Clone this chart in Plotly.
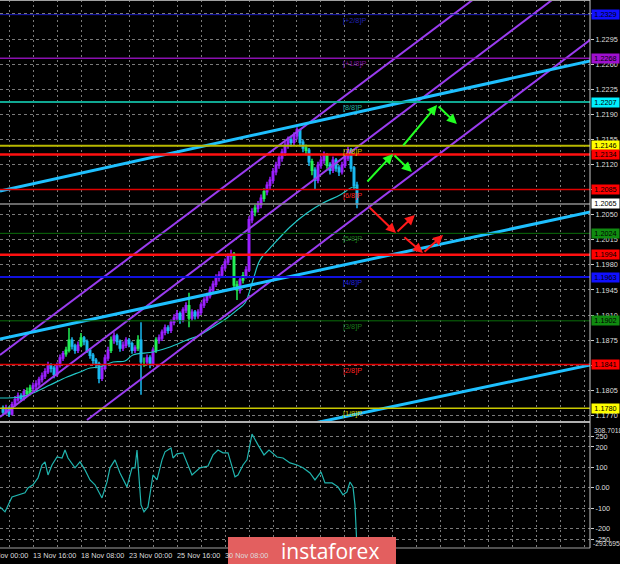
import plotly.graph_objects as go

# ---------------- data ----------------
bar_idx = list(range(119))
opens = [1.1780,1.1775,1.1780,1.1772,1.1785,1.1792,1.1797,1.1794,1.1803,1.1801,
         1.1808,1.1811,1.1814,1.1820,1.1825,1.1831,1.1839,1.1836,1.1827,1.1840,
         1.1850,1.1856,1.1861,1.1875,1.1867,1.1861,1.1868,1.1878,1.1873,1.1861,
         1.1854,1.1847,1.1842,1.1822,1.1836,1.1850,1.1861,1.1875,1.1881,1.1873,
         1.1864,1.1868,1.1875,1.1870,1.1861,1.1864,1.1875,1.1845,1.1845,1.1850,
         1.1842,1.1861,1.1875,1.1878,1.1886,1.1892,1.1889,1.1900,1.1906,1.1912,
         1.1903,1.1917,1.1923,1.1906,1.1914,1.1909,1.1914,1.1924,1.1931,1.1937,
         1.1945,1.1953,1.1962,1.1966,1.1976,1.1984,1.1992,1.1995,1.1952,1.1945,
         1.1959,1.1965,1.1973,1.2043,1.2054,1.2059,1.2064,1.2073,1.2082,1.2091,
         1.2098,1.2110,1.2119,1.2129,1.2137,1.2147,1.2154,1.2151,1.2160,1.2168,
         1.2151,1.2143,1.2140,1.2124,1.2112,1.2098,1.2119,1.2126,1.2133,1.2119,
         1.2112,1.2126,1.2115,1.2110,1.2119,1.2129,1.2140,1.2115,1.2091]
highs = [1.1784,1.1785,1.1783,1.1789,1.1797,1.1802,1.1801,1.1807,1.1809,1.1813,
         1.1816,1.1819,1.1824,1.1830,1.1836,1.1845,1.1843,1.1839,1.1844,1.1855,
         1.1860,1.1866,1.1892,1.1879,1.1870,1.1873,1.1885,1.1881,1.1876,1.1864,
         1.1857,1.1850,1.1845,1.1840,1.1855,1.1866,1.1880,1.1886,1.1884,1.1876,
         1.1873,1.1879,1.1878,1.1873,1.1868,1.1882,1.1900,1.1851,1.1855,1.1854,
         1.1865,1.1879,1.1883,1.1890,1.1897,1.1896,1.1904,1.1911,1.1917,1.1915,
         1.1921,1.1928,1.1941,1.1918,1.1917,1.1918,1.1928,1.1935,1.1941,1.1950,
         1.1958,1.1967,1.1971,1.1980,1.1989,1.1996,1.2001,1.1998,1.1958,1.1963,
         1.1970,1.1978,1.2048,1.2059,1.2064,1.2069,1.2078,1.2087,1.2096,1.2103,
         1.2115,1.2124,1.2134,1.2142,1.2152,1.2159,1.2160,1.2165,1.2172,1.2170,
         1.2155,1.2148,1.2143,1.2128,1.2116,1.2124,1.2131,1.2138,1.2136,1.2123,
         1.2131,1.2129,1.2119,1.2124,1.2134,1.2145,1.2143,1.2118,1.2096]
lows = [1.1770,1.1771,1.1768,1.1770,1.1782,1.1789,1.1789,1.1791,1.1797,1.1798,
        1.1804,1.1807,1.1810,1.1816,1.1821,1.1828,1.1830,1.1822,1.1824,1.1837,
        1.1846,1.1852,1.1858,1.1862,1.1856,1.1857,1.1865,1.1868,1.1857,1.1849,
        1.1841,1.1836,1.1815,1.1818,1.1833,1.1846,1.1857,1.1870,1.1868,1.1859,
        1.1860,1.1864,1.1865,1.1856,1.1857,1.1860,1.1799,1.1838,1.1840,1.1836,
        1.1839,1.1857,1.1870,1.1874,1.1882,1.1884,1.1885,1.1896,1.1902,1.1898,
        1.1900,1.1913,1.1893,1.1902,1.1904,1.1905,1.1910,1.1920,1.1927,1.1933,
        1.1941,1.1949,1.1957,1.1962,1.1972,1.1980,1.1987,1.1945,1.1931,1.1940,
        1.1954,1.1961,1.1970,1.2038,1.2048,1.2053,1.2059,1.2068,1.2077,1.2086,
        1.2093,1.2105,1.2114,1.2124,1.2132,1.2142,1.2145,1.2146,1.2155,1.2145,
        1.2137,1.2133,1.2118,1.2105,1.2085,1.2094,1.2114,1.2121,1.2114,1.2106,
        1.2108,1.2110,1.2104,1.2106,1.2115,1.2125,1.2110,1.2086,1.2059]
closes = [1.1775,1.1780,1.1772,1.1785,1.1792,1.1797,1.1794,1.1803,1.1801,1.1808,
          1.1811,1.1814,1.1820,1.1825,1.1831,1.1839,1.1836,1.1827,1.1840,1.1850,
          1.1856,1.1861,1.1875,1.1867,1.1861,1.1868,1.1878,1.1873,1.1861,1.1854,
          1.1847,1.1842,1.1822,1.1836,1.1850,1.1861,1.1875,1.1881,1.1873,1.1864,
          1.1868,1.1875,1.1870,1.1861,1.1864,1.1875,1.1845,1.1845,1.1850,1.1842,
          1.1861,1.1875,1.1878,1.1886,1.1892,1.1889,1.1900,1.1906,1.1912,1.1903,
          1.1917,1.1923,1.1906,1.1914,1.1909,1.1914,1.1924,1.1931,1.1937,1.1945,
          1.1953,1.1962,1.1966,1.1976,1.1984,1.1992,1.1995,1.1952,1.1945,1.1959,
          1.1965,1.1973,1.2043,1.2054,1.2059,1.2064,1.2073,1.2082,1.2091,1.2098,
          1.2110,1.2119,1.2129,1.2137,1.2147,1.2154,1.2151,1.2160,1.2168,1.2151,
          1.2143,1.2140,1.2124,1.2112,1.2098,1.2119,1.2126,1.2133,1.2119,1.2112,
          1.2126,1.2115,1.2110,1.2119,1.2129,1.2140,1.2115,1.2091,1.2065]
green_bars = [8, 9, 21, 22, 26, 36, 45, 47, 51, 62, 77, 78, 80, 84, 87, 101, 103, 108]

ma_x = [-1, 5.67, 10, 15.67, 21.33, 25.67, 29, 32.33, 36.67, 40.67, 43.33, 50, 55.67,
        61.33, 65.67, 70, 74.67, 78, 80.67, 83.33, 85.67, 90, 95.67, 101.33, 106.67,
        112.33, 116.67, 118]
ma_vals = [1.17944, 1.17958, 1.18014, 1.18125, 1.18237, 1.18307, 1.18362, 1.18376,
           1.18446, 1.18460, 1.18544, 1.18585, 1.18655, 1.18753, 1.18822, 1.18934,
           1.19059, 1.19171, 1.19269, 1.19589, 1.19868, 1.20078, 1.20329, 1.20524,
           1.20663, 1.20775, 1.20886, 1.20872]

cci_x = [-1, 0.67, 3, 5.67, 7.33, 8.33, 10, 11.67, 13, 14, 15, 16.33, 18, 19.67, 20.67,
         21.67, 24, 25.67, 27.33, 29, 30.67, 33, 34.67, 35.67, 37.33, 39, 41.33, 43, 44,
         44.67, 45.33, 46, 47, 48.33, 50, 51.33, 53, 54, 56, 56.67, 58, 60, 63, 64.67,
         65.67, 68.33, 70, 71.67, 73.33, 75, 77.33, 78.33, 80, 81.33, 83, 85, 87, 88.67,
         91.33, 93.33, 95.67, 98, 100, 102.33, 104, 106, 107.33, 109.67, 111.67, 113.33,
         114.67, 115.67, 116.67, 117.33, 118]
cci_vals = [-93, -117, -44, -34, -24, 0, 15, 49, 112, 127, 63, 112, 151, 146, 185,
            146, 98, 127, 88, 39, 15, -49, 29, 98, 137, 73, 5, 98, 98,
            185, 29, -83, -117, -93, 63, 39, 137, 176, 195, 146, 166, 171, 63, 88,
            98, 107, 161, 185, 171, 171, 54, 63, 112, 137, 263, 210, 161, 185,
            151, 146, 122, 112, 98, 73, 39, 78, 24, 24, 5, -34,
            -20, 29, 5, -83, -293.6958]

# Murray / support-resistance levels
level_prices = [1.2329, 1.2268, 1.2207, 1.2146, 1.2134, 1.2085, 1.2065, 1.2024,
                1.1994, 1.1963, 1.1902, 1.1841, 1.1780]
level_names = ["[+2/8]P", "[+1/8]P", "[8/8]P", "[7/8]P", "", "[6/8]P", "", "[5/8]P",
               "", "[4/8]P", "[3/8]P", "[2/8]P", "[1/8]P"]
level_labels = ["1.2329", "1.2268", "1.2207", "1.2146", "1.2134", "1.2085", "1.2065",
                "1.2024", "1.1994", "1.1963", "1.1902", "1.1841", "1.1780"]

# channel lines: (x0, p0, x1, p1)
purple_lines = [(-1, 1.18544, 196, 1.24735), (-1, 1.17679, 196, 1.23905),
                (28, 1.17637, 196, 1.22946)]
blue_lines = [(-1, 1.20831, 196, 1.22646), (-1, 1.18767, 196, 1.20541),
              (100, 1.17561, 196, 1.18407)]

green_arrows = [(121, 1.20942, 130, 1.21346), (130, 1.21346, 136.3, 1.21096),
                (133, 1.21444, 144.7, 1.22030), (144.7, 1.22030, 151.3, 1.21765)]
red_arrows = [(121.7, 1.20621, 131, 1.20245), (131, 1.20245, 137.3, 1.20496),
              (133.3, 1.20203, 140, 1.19966), (140, 1.19966, 146.7, 1.20217)]

date_pos = [-6, 10, 26, 42, 58, 74]
date_labels = ["12 Nov 00:00", "13 Nov 16:00", "18 Nov 08:00", "23 Nov 00:00",
               "25 Nov 16:00", "30 Nov 08:00"]

# ---------------- styles ----------------
PURPLE = "#9b1fff"
BLUE_C = "#1ab8f0"
GREEN_C = "#22ee55"
level_line_colors = ["#1a1ab4", "#8a10b0", "#10a892", "#b8b800", "#ff1010", "#e00000",
                     "#8c8c8c", "#0a6e0a", "#ff1010", "#1010dd", "#0a6e0a", "#e00000",
                     "#c8c800"]
level_line_widths = [1, 1.5, 2, 2, 2.5, 1.5, 1.5, 1, 2.5, 2, 1, 1.5, 1.5]
box_colors = ["#1010ff", "#a010d0", "#00f0ff", "#ffff00", "#ff0000", "#ff0000",
              "#ffffff", "#108a10", "#ff0000", "#1010ff", "#108a10", "#ff0000", "#ffff00"]
name_colors = ["#2020b0", "#8010a0", "#20b0a0", "#d0c000", "#ff2020", "#ff2020",
               "#888", "#1a7a1a", "#ff2020", "#2020e0", "#1a7a1a", "#ff2020", "#d0d000"]
FONT = "Liberation Sans, Arial"
FS = 7.3

PLOT_H = 548
X_RANGE = [-1, 195.67]
fig = go.Figure()

# candles
def add_candles(idx, color):
    fig.add_trace(go.Candlestick(
        x=[bar_idx[i] for i in idx], open=[opens[i] for i in idx],
        high=[highs[i] for i in idx], low=[lows[i] for i in idx],
        close=[closes[i] for i in idx],
        increasing=dict(line=dict(color=color, width=1.5), fillcolor=color),
        decreasing=dict(line=dict(color=color, width=1.5), fillcolor=color),
        whiskerwidth=0, xaxis="x", yaxis="y", showlegend=False, hoverinfo="skip"))

up_idx = [i for i in bar_idx if i not in green_bars and closes[i] >= opens[i]]
dn_idx = [i for i in bar_idx if i not in green_bars and closes[i] < opens[i]]
add_candles(up_idx, PURPLE)
add_candles(dn_idx, BLUE_C)
add_candles(green_bars, GREEN_C)

# moving average
fig.add_trace(go.Scatter(x=ma_x, y=ma_vals, mode="lines", line=dict(color="#22c8c8", width=1.2, shape="spline"),
                         xaxis="x", yaxis="y", hoverinfo="skip", showlegend=False))

# channel lines
for (x0, p0, x1, p1) in purple_lines:
    fig.add_trace(go.Scatter(x=[x0, x1], y=[p0, p1], mode="lines", line=dict(color="#9a3cf0", width=2),
                             xaxis="x", yaxis="y", hoverinfo="skip", showlegend=False))
for (x0, p0, x1, p1) in blue_lines:
    fig.add_trace(go.Scatter(x=[x0, x1], y=[p0, p1], mode="lines", line=dict(color="#1ec0ff", width=3),
                             xaxis="x", yaxis="y", hoverinfo="skip", showlegend=False))

# CCI
fig.add_trace(go.Scatter(x=cci_x, y=cci_vals, mode="lines", line=dict(color="#20b4ae", width=1.2),
                         xaxis="x2", yaxis="y2", hoverinfo="skip", showlegend=False))

shapes = []
annotations = []
for k, p in enumerate(level_prices):
    shapes.append(dict(type="line", xref="x", yref="y", x0=-1, x1=196, y0=p, y1=p,
                       line=dict(color=level_line_colors[k], width=level_line_widths[k]), layer="above"))
    annotations.append(dict(xref="paper", yref="y", x=1, y=p, xanchor="left", xshift=1,
                            text=level_labels[k], showarrow=False, bgcolor=box_colors[k],
                            width=27, height=9, borderpad=0,
                            font=dict(family=FONT, size=FS, color="#000000")))
    if level_names[k]:
        annotations.append(dict(xref="x", yref="y", x=112.7, y=p, xanchor="left", yanchor="top",
                                text=level_names[k], showarrow=False, yshift=1,
                                font=dict(family=FONT, size=FS, color=name_colors[k])))

for arrows, col in ((green_arrows, "#22ff22"), (red_arrows, "#ff1a1a")):
    for (x0, p0, x1, p1) in arrows:
        annotations.append(dict(xref="x", yref="y", axref="x", ayref="y", x=x1, y=p1, ax=x0, ay=p0,
                                text="", showarrow=True, arrowhead=2, arrowsize=1, arrowwidth=2,
                                arrowcolor=col))

# time labels: bar position mapped onto the shared x axis span (paper coords so the
# partly hidden first label can still be drawn)
for xp, lab in zip(date_pos, date_labels):
    px = (xp - X_RANGE[0]) / (X_RANGE[1] - X_RANGE[0])
    annotations.append(dict(xref="paper", yref="paper", x=px, y=-7 / PLOT_H, xanchor="left", yanchor="middle",
                            text=lab, showarrow=False, xshift=-2,
                            font=dict(family=FONT, size=FS, color="#dddddd")))

# CCI extreme labels
annotations.append(dict(xref="paper", yref="y2", x=1, y=308.7018, xanchor="left", yanchor="top", xshift=2,
                        text="308.7018", showarrow=False,
                        font=dict(family=FONT, size=6.8, color="#dddddd")))
annotations.append(dict(xref="paper", yref="y2", x=1, y=-293.6958, xanchor="left", yanchor="middle", xshift=1,
                        yshift=4, text="-293.6958", showarrow=False,
                        font=dict(family=FONT, size=6.8, color="#dddddd")))

# frame lines
sep_y = (PLOT_H - 422) / PLOT_H
shapes += [
    dict(type="line", xref="paper", yref="paper", x0=0, x1=1, y0=1, y1=1, line=dict(color="#a0a0a0", width=2)),
    dict(type="line", xref="paper", yref="paper", x0=0, x1=1, y0=sep_y, y1=sep_y, line=dict(color="#b0b0b0", width=2)),
    dict(type="line", xref="paper", yref="paper", x0=1, x1=1, y0=0, y1=1, line=dict(color="#c8c8c8", width=1)),
    dict(type="line", xref="paper", yref="paper", x0=0, x1=1, y0=0, y1=0, line=dict(color="#a0a0a0", width=1)),
]

# instaforex badge
shapes.append(dict(type="rect", xref="paper", yref="paper", x0=228 / 590, x1=396 / 590,
                   y0=(PLOT_H - 566) / PLOT_H, y1=(PLOT_H - 537) / PLOT_H,
                   fillcolor="#e35f5f", line=dict(width=0), layer="above"))
annotations.append(dict(xref="paper", yref="paper", x=330 / 590, y=(PLOT_H - 551) / PLOT_H,
                        text="instaforex", showarrow=False, xanchor="center", yanchor="middle",
                        font=dict(family="Open Sans, Arial", size=21, color="#ffffff")))

grid_col = "#7a7a7a"
fig.update_layout(
    width=620, height=564,
    margin=dict(l=0, r=30, t=0, b=564 - PLOT_H, autoexpand=False),
    paper_bgcolor="#000000", plot_bgcolor="#000000",
    showlegend=False,
    xaxis=dict(domain=[0, 1], range=X_RANGE, anchor="y", tick0=2, dtick=8,
               showgrid=True, gridcolor=grid_col, griddash="2px,3px", gridwidth=1,
               showticklabels=False, zeroline=False, showline=False, automargin=False,
               rangeslider=dict(visible=False)),
    xaxis2=dict(domain=[0, 1], matches="x", anchor="y2", tick0=2, dtick=8,
                showgrid=True, gridcolor=grid_col, griddash="2px,3px", gridwidth=1,
                showticklabels=False, zeroline=False, showline=False, automargin=False),
    yaxis=dict(domain=[1 - 421 / PLOT_H, 1], range=[1.17623, 1.23494], side="right",
               anchor="x", tick0=1.2295, dtick=0.0035, tickformat=".4f", automargin=False,
               showgrid=True, gridcolor=grid_col, griddash="3px,3px", gridwidth=1,
               zeroline=False, ticks="outside", ticklen=3, tickcolor="#cccccc",
               tickfont=dict(family=FONT, size=FS, color="#dddddd")),
    yaxis2=dict(domain=[0, (PLOT_H - 424.7) / PLOT_H], range=[-293.6958, 308.7018], side="right",
                anchor="x2", tickvals=[250, 200, 100, 0, -100, -200, -250], automargin=False,
                ticktext=["250", "200", "100", "0.00", "-100", "-200", "-250"],
                showgrid=True, gridcolor=grid_col, griddash="3px,3px", gridwidth=1,
                zeroline=False, ticks="outside", ticklen=3, tickcolor="#cccccc",
                tickfont=dict(family=FONT, size=FS, color="#dddddd")),
    shapes=shapes,
    annotations=annotations,
)

fig.write_html("out.html", config={"displayModeBar": False},
               post_script="document.body.style.margin='0';document.body.style.padding='0';"
                           "document.body.style.background='#000';document.body.style.overflow='hidden';")
